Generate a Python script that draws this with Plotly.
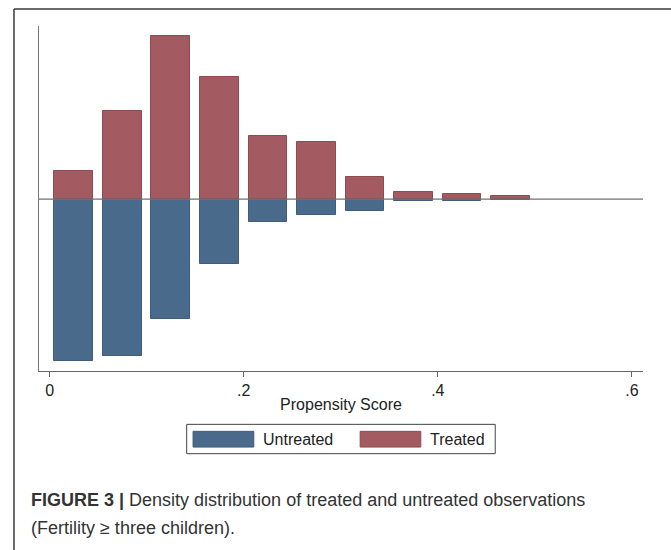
import plotly.graph_objects as go

# Data (density per bin, bin width 0.05)
bin_centers = [0.025, 0.075, 0.125, 0.175, 0.225, 0.275, 0.325, 0.375, 0.425, 0.475]
treated = [1.01, 3.17, 5.83, 4.37, 2.25, 2.03, 0.79, 0.24, 0.17, 0.10]
untreated = [5.78, 5.60, 4.28, 2.31, 0.83, 0.57, 0.41, 0.07, 0.07, 0.02]
x_ticks = [0, 0.2, 0.4, 0.6]
x_tick_labels = ["0", ".2", ".4", ".6"]

BLUE = "#4a6a8b"
RED = "#a35b61"

fig = go.Figure()
fig.add_trace(go.Bar(x=bin_centers, y=[-v for v in untreated], width=0.04,
                     name="Untreated", marker=dict(color=BLUE, line=dict(color="#3f5c7a", width=1)),
                     showlegend=False))
fig.add_trace(go.Bar(x=bin_centers, y=treated, width=0.04,
                     name="Treated", marker=dict(color=RED, line=dict(color="#8f4b51", width=1)),
                     showlegend=False))

W, H = 671, 550
ml, mt = 39, 26
mr = W - 642.7
mb = H - 370.7
pw = W - ml - mr
ph = H - mt - mb

def px(xp):
    return (xp - ml) / pw

def py(yp):
    return (H - mb - yp) / ph

shapes = [
    # zero line
    dict(type="line", xref="paper", yref="y", x0=0, x1=1, y0=0, y1=0,
         line=dict(color="#707070", width=1.2)),
    # outer frame (top and left)
    dict(type="line", xref="paper", yref="paper", x0=px(14), x1=px(690), y0=py(9), y1=py(9),
         line=dict(color="#3a3a3a", width=1.5)),
    dict(type="line", xref="paper", yref="paper", x0=px(14), x1=px(14), y0=py(9), y1=py(570),
         line=dict(color="#3a3a3a", width=1.5)),
    # legend box
    dict(type="rect", xref="paper", yref="paper", x0=px(186.6), x1=px(495), y0=py(424), y1=py(453.3),
         line=dict(color="#444444", width=1), fillcolor="white"),
    dict(type="rect", xref="paper", yref="paper", x0=px(193), x1=px(253.7), y0=py(431), y1=py(446.7),
         line=dict(color="#3f5c7a", width=1), fillcolor=BLUE),
    dict(type="rect", xref="paper", yref="paper", x0=px(360), x1=px(420.6), y0=py(431), y1=py(446.7),
         line=dict(color="#8f4b51", width=1), fillcolor=RED),
]

annotations = [
    dict(text="Untreated", xref="paper", yref="paper", x=px(261), y=py(439), xanchor="left",
         yanchor="middle", showarrow=False, font=dict(size=16, color="#222222")),
    dict(text="Treated", xref="paper", yref="paper", x=px(428), y=py(439), xanchor="left",
         yanchor="middle", showarrow=False, font=dict(size=16, color="#222222")),
    dict(text="<b>FIGURE 3 |</b> Density distribution of treated and untreated observations",
         xref="paper", yref="paper", x=px(29), y=py(500), xanchor="left", yanchor="middle",
         showarrow=False, font=dict(size=18, color="#333333")),
    dict(text="(Fertility ≥ three children).",
         xref="paper", yref="paper", x=px(29), y=py(528), xanchor="left", yanchor="middle",
         showarrow=False, font=dict(size=18, color="#333333")),
]

fig.update_layout(
    width=W, height=H,
    margin=dict(l=ml, r=mr, t=mt, b=mb, pad=0),
    paper_bgcolor="white", plot_bgcolor="white",
    barmode="overlay", bargap=0,
    font=dict(family="Liberation Sans, Arial, sans-serif", color="#222222"),
    shapes=shapes, annotations=annotations,
    showlegend=False,
)
fig.update_xaxes(range=[-0.0109, 0.6114], tickvals=x_ticks, ticktext=x_tick_labels,
                 ticks="outside", ticklen=5, tickcolor="#666666", tickwidth=1,
                 showline=True, linecolor="#666666", linewidth=1.2,
                 showgrid=False, zeroline=False, tickfont=dict(size=16, color="#222222"),
                 title=dict(text="Propensity Score", font=dict(size=16, color="#222222"), standoff=0))
fig.update_yaxes(range=[-6.15, 6.20], showticklabels=False, ticks="",
                 showline=True, linecolor="#777777", linewidth=1.2,
                 showgrid=False, zeroline=False)

fig.write_html("out.html", config={"displayModeBar": False},
               post_script="document.body.style.margin='0px';document.body.style.overflow='hidden';")
